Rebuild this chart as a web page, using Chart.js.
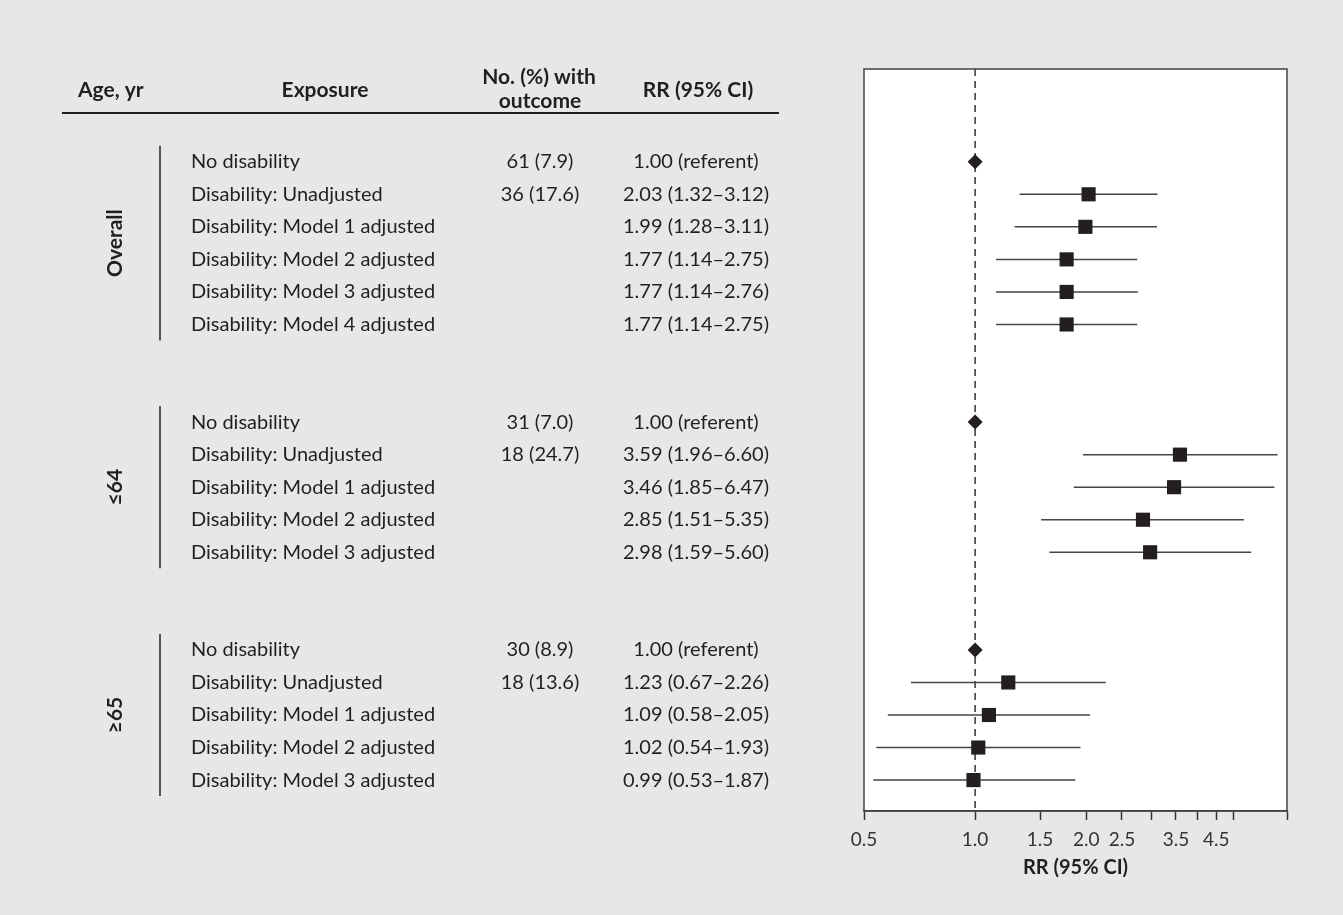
<!DOCTYPE html>
<html>
<head>
<meta charset="utf-8">
<script src="https://cdn.jsdelivr.net/npm/chart.js@4"></script>
<style>
  html, body { margin: 0; padding: 0; background: #e6e7e9; }
  #wrap { position: relative; width: 1343px; height: 915px; }
</style>
</head>
<body>
<div id="wrap"><canvas id="forest"></canvas></div>
<script>
// ---- data ----
const ageGroups = ['Overall', '≤64', '≥65'];
const groupSizes = [6, 5, 5];
const exposures = [
  'No disability', 'Disability: Unadjusted', 'Disability: Model 1 adjusted',
  'Disability: Model 2 adjusted', 'Disability: Model 3 adjusted', 'Disability: Model 4 adjusted',
  'No disability', 'Disability: Unadjusted', 'Disability: Model 1 adjusted',
  'Disability: Model 2 adjusted', 'Disability: Model 3 adjusted',
  'No disability', 'Disability: Unadjusted', 'Disability: Model 1 adjusted',
  'Disability: Model 2 adjusted', 'Disability: Model 3 adjusted'
];
const withOutcome = [
  '61 (7.9)', '36 (17.6)', '', '', '', '',
  '31 (7.0)', '18 (24.7)', '', '', '',
  '30 (8.9)', '18 (13.6)', '', '', ''
];
const rrEstimate = [1.00, 2.03, 1.99, 1.77, 1.77, 1.77, 1.00, 3.59, 3.46, 2.85, 2.98, 1.00, 1.23, 1.09, 1.02, 0.99];
const ciLower   = [null, 1.32, 1.28, 1.14, 1.14, 1.14, null, 1.96, 1.85, 1.51, 1.59, null, 0.67, 0.58, 0.54, 0.53];
const ciUpper   = [null, 3.12, 3.11, 2.75, 2.76, 2.75, null, 6.60, 6.47, 5.35, 5.60, null, 2.26, 2.05, 1.93, 1.87];
const xTicks      = [0.5, 1, 1.5, 2, 2.5, 3, 3.5, 4, 4.5, 5, 7];
const xTickLabels = ['0.5', '1.0', '1.5', '2.0', '2.5', '', '3.5', '', '4.5', '', ''];

// row index of each line: groups separated by a gap of 3 rows
const rowPos = [];
const rowGroup = [];
let start = 0;
groupSizes.forEach((n, g) => {
  for (let i = 0; i < n; i++) { rowPos.push(start + i); rowGroup.push(g); }
  start += n + 2;
});

const ink = '#231f20';
const FONT = 'Lato, "Noto Sans", sans-serif';
const Y_TOP = -2.85, Y_BOTTOM = 19.95;

const rrText = rrEstimate.map((v, i) =>
  ciLower[i] == null ? v.toFixed(2) + ' (referent)'
                     : v.toFixed(2) + ' (' + ciLower[i].toFixed(2) + '–' + ciUpper[i].toFixed(2) + ')');

// ---- datasets ----
const isRef = rrEstimate.map((v, i) => ciLower[i] == null);
const datasets = [
  {
    label: 'referent',
    data: rowPos.filter((p, i) => isRef[i]).map(p => ({ x: 1, y: p })),
    pointStyle: 'rectRot', pointRadius: 7.5, backgroundColor: ink, borderWidth: 0, order: 0
  },
  {
    label: 'estimate',
    data: rowPos.map((p, i) => ({ x: rrEstimate[i], y: p })).filter((d, i) => !isRef[i]),
    pointStyle: 'rect', pointRadius: 10, backgroundColor: ink, borderWidth: 0, order: 0
  },
  {
    label: 'null line',
    data: [{ x: 1, y: Y_TOP }, { x: 1, y: Y_BOTTOM }],
    showLine: true, pointRadius: 0, borderColor: '#333', borderWidth: 1.5,
    borderDash: [7, 5], order: 2
  }
];
rowPos.forEach((p, i) => {
  if (isRef[i]) return;
  datasets.push({
    label: 'ci' + i,
    data: [{ x: ciLower[i], y: p }, { x: ciUpper[i], y: p }],
    showLine: true, pointRadius: 0, borderColor: '#444', borderWidth: 1.5, order: 1
  });
});

// ---- table + frame ----
const tablePlugin = {
  id: 'tablePlugin',
  beforeDraw(chart) {
    const { ctx, chartArea: a } = chart;
    ctx.save();
    ctx.fillStyle = '#ffffff';
    ctx.fillRect(a.left, a.top, a.right - a.left, a.bottom - a.top);
    ctx.restore();
  },
  afterDraw(chart) {
    const { ctx, chartArea: a } = chart;
    const ys = chart.scales.y;
    ctx.save();
    // plot frame
    ctx.strokeStyle = '#444';
    ctx.lineWidth = 1.5;
    ctx.strokeRect(a.left, a.top, a.right - a.left, a.bottom - a.top);

    ctx.fillStyle = ink;
    ctx.textBaseline = 'middle';
    ctx.font = 'bold 21px ' + FONT;
    ctx.textAlign = 'left';
    ctx.fillText('Age, yr', 78, 90);
    ctx.textAlign = 'center';
    ctx.fillText('Exposure', 325, 90);
    ctx.fillText('No. (%) with', 539, 77);
    ctx.fillText('outcome', 540, 101);
    ctx.fillText('RR (95% CI)', 698, 90);

    ctx.strokeStyle = ink;
    ctx.lineWidth = 2;
    ctx.beginPath();
    ctx.moveTo(62, 113);
    ctx.lineTo(779, 113);
    ctx.stroke();

    ctx.font = '20px ' + FONT;
    rowPos.forEach((p, i) => {
      const y = ys.getPixelForValue(p);
      ctx.textAlign = 'left';
      ctx.fillText(exposures[i], 191, y);
      ctx.textAlign = 'center';
      ctx.fillText(withOutcome[i], 540, y);
      ctx.fillText(rrText[i], 696, y);
    });

    // group brackets and rotated labels
    ageGroups.forEach((g, gi) => {
      const rows = rowPos.filter((p, i) => rowGroup[i] === gi);
      const y0 = ys.getPixelForValue(rows[0]) - 16;
      const y1 = ys.getPixelForValue(rows[rows.length - 1]) + 16;
      ctx.strokeStyle = '#555';
      ctx.lineWidth = 2;
      ctx.beginPath();
      ctx.moveTo(160, y0);
      ctx.lineTo(160, y1);
      ctx.stroke();
      ctx.save();
      ctx.translate(115, (y0 + y1) / 2);
      ctx.rotate(-Math.PI / 2);
      ctx.font = 'bold 21px ' + FONT;
      ctx.textAlign = 'center';
      ctx.fillText(g, 0, 0);
      ctx.restore();
    });
    ctx.restore();
  }
};

new Chart(document.getElementById('forest'), {
  type: 'scatter',
  data: { datasets },
  options: {
    responsive: true,
    maintainAspectRatio: false,
    animation: false,
    layout: { padding: { left: 864, top: 69, right: 56, bottom: 0 } },
    plugins: { legend: { display: false }, tooltip: { enabled: false } },
    scales: {
      x: {
        type: 'logarithmic',
        min: 0.5,
        max: 7,
        afterBuildTicks: s => { s.ticks = xTicks.map(v => ({ value: v })); },
        afterFit: s => { s.height = 104; },
        ticks: {
          autoSkip: false, maxRotation: 0, padding: 8,
          color: '#333', font: { family: FONT, size: 19 },
          callback: (v, i) => xTickLabels[i]
        },
        grid: { drawOnChartArea: false, drawTicks: true, tickLength: 9, tickColor: '#333', tickWidth: 1.5 },
        border: { display: true, color: '#333', width: 1.5 },
        title: {
          display: true, text: 'RR (95% CI)', color: ink,
          font: { family: FONT, size: 20, weight: 'bold' }, padding: { top: 4, bottom: 35 }
        }
      },
      y: {
        type: 'linear',
        reverse: true,
        min: Y_TOP,
        max: Y_BOTTOM,
        display: false
      }
    }
  },
  plugins: [tablePlugin]
});
</script>
</body>
</html>
